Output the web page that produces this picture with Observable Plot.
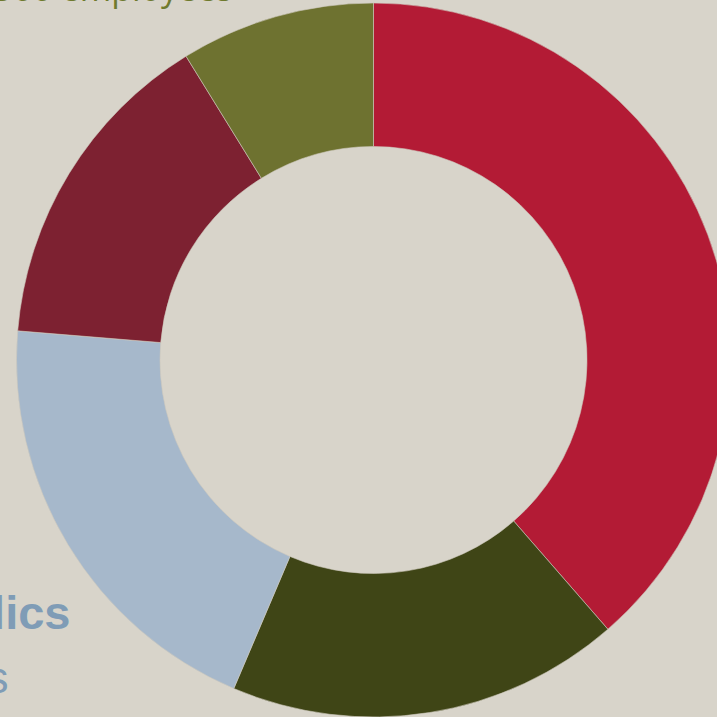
<!DOCTYPE html>
<html>
<head>
<meta charset="utf-8">
<script src="https://cdn.jsdelivr.net/npm/d3@7"></script>
<script src="https://cdn.jsdelivr.net/npm/@observablehq/plot@0.6"></script>
<style>
  html, body { margin: 0; padding: 0; background: #d8d4ca; overflow: hidden; }
  #chart svg { display: block; }
</style>
</head>
<body>
<div id="chart"></div>
<script>
// Slices, clockwise from 12 o'clock
const categories = ["Large companies", "SMEs", "Publics", "Micro companies", "500 employees"];
const shares = [38.6, 17.8, 19.9, 14.9, 8.8];
const sliceColors = ["#b31b35", "#3f4516", "#a6b8cb", "#7d2131", "#6e7230"];

// Labels (partially outside the visible frame, as in the reference)
const labelTexts = ["Over 500 employees", "Publics", "services"];
const labelX = [232, 70, 8];
const labelY = [0, 628, 692];
const labelColors = ["#6f7a2e", "#7f9cb6", "#7f9cb6"];
const labelSizes = [34, 47, 44];
const labelWeights = ["normal", "bold", "normal"];
const labelFonts = ["'Open Sans', sans-serif", "'Liberation Sans', Arial, sans-serif", "'Liberation Sans', Arial, sans-serif"];

const W = 717, H = 717;
const cx = 373.5, cy = 360, rOuter = 357, rInner = 213.5;

const data = categories.map((c, i) => ({category: c, value: shares[i], color: sliceColors[i]}));
const labels = labelTexts.map((t, i) => ({text: t, x: labelX[i], y: labelY[i], color: labelColors[i], size: labelSizes[i], weight: labelWeights[i], font: labelFonts[i]}));

function donutMark(index, scales) {
  const g = d3.create("svg:g");
  const x0 = scales.x(cx), y0 = scales.y(cy);
  const ro = scales.x(cx + rOuter) - x0;
  const ri = scales.x(cx + rInner) - x0;
  const pie = d3.pie().sort(null).value(d => d.value)(data);
  const arc = d3.arc().innerRadius(ri).outerRadius(ro);
  g.attr("transform", `translate(${x0},${y0})`)
    .selectAll("path")
    .data(pie)
    .join("path")
    .attr("d", arc)
    .attr("fill", d => d.data.color)
    .attr("stroke", "#cfc9bd")
    .attr("stroke-width", 0.6);
  return g.node();
}

const chart = Plot.plot({
  width: W,
  height: H,
  margin: 0,
  style: {background: "#d8d4ca", overflow: "visible"},
  x: {domain: [0, W], range: [0, W], axis: null},
  y: {domain: [0, H], range: [0, H], axis: null},
  marks: [
    donutMark,
    ...labels.map(l => Plot.text([l], {
      x: "x", y: "y", text: "text",
      fill: l.color, fontSize: l.size, fontWeight: l.weight, fontFamily: l.font,
      textAnchor: "end", lineAnchor: "bottom"
    }))
  ]
});
document.getElementById("chart").appendChild(chart);
</script>
</body>
</html>
